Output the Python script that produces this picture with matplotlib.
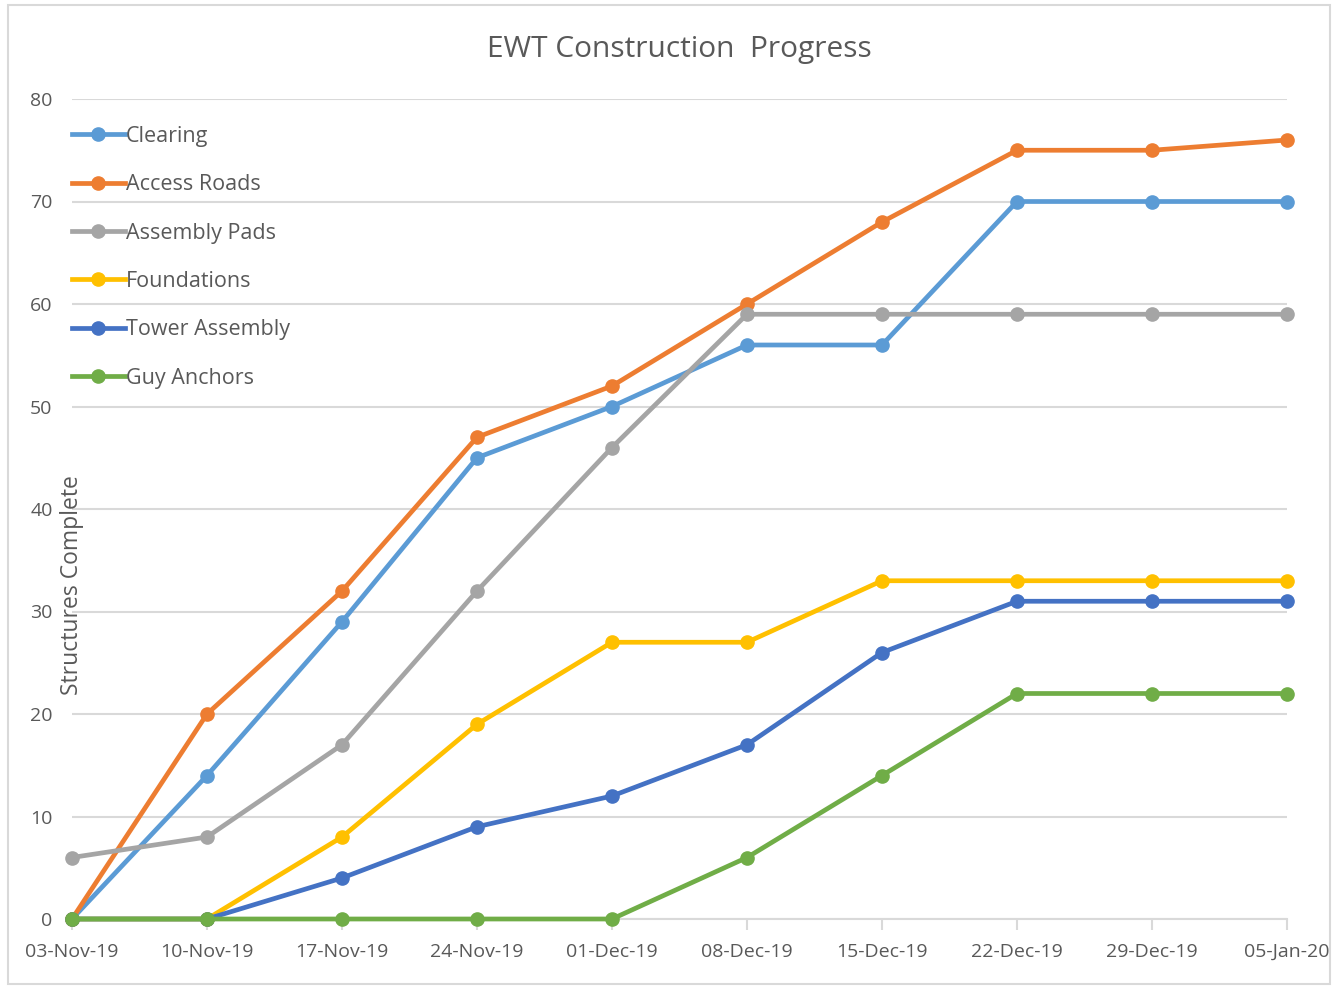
import matplotlib
matplotlib.use("Agg")
import matplotlib.pyplot as plt
from matplotlib.patches import Rectangle

dates = ["03-Nov-19", "10-Nov-19", "17-Nov-19", "24-Nov-19", "01-Dec-19",
         "08-Dec-19", "15-Dec-19", "22-Dec-19", "29-Dec-19", "05-Jan-20"]
clearing = [0, 14, 29, 45, 50, 56, 56, 70, 70, 70]
access_roads = [0, 20, 32, 47, 52, 60, 68, 75, 75, 76]
assembly_pads = [6, 8, 17, 32, 46, 59, 59, 59, 59, 59]
foundations = [0, 0, 8, 19, 27, 27, 33, 33, 33, 33]
tower_assembly = [0, 0, 4, 9, 12, 17, 26, 31, 31, 31]
guy_anchors = [0, 0, 0, 0, 0, 6, 14, 22, 22, 22]

series = [
    ("Clearing", clearing, "#5B9BD5"),
    ("Access Roads", access_roads, "#ED7D31"),
    ("Assembly Pads", assembly_pads, "#A5A5A5"),
    ("Foundations", foundations, "#FFC000"),
    ("Tower Assembly", tower_assembly, "#4472C4"),
    ("Guy Anchors", guy_anchors, "#70AD47"),
]

narrow = ["Liberation Sans Narrow", "Open Sans", "DejaVu Sans"]
txtc = "#595959"

W, H = 1334, 986
fig = plt.figure(figsize=(W / 100, H / 100), dpi=100)
fig.patch.set_facecolor("white")
fig.patches.append(Rectangle((8 / W, 1 - 984 / H), (1330 - 8) / W, (984 - 5) / H,
                             transform=fig.transFigure, fill=False,
                             edgecolor="#D9D9D9", linewidth=1.5))

ax = fig.add_axes([72 / W, 1 - 919 / H, (1287 - 72) / W, (919 - 99) / H])
x = list(range(len(dates)))
for name, vals, col in series:
    ax.plot(x, vals, color=col, linewidth=3.4, marker="o", markersize=9.5,
            label=name, clip_on=False, zorder=3)

ax.set_xlim(0, len(dates) - 1)
ax.set_ylim(0, 80)
ax.set_yticks(range(0, 81, 10))
ax.set_xticks(x)
ax.set_xticklabels(dates)
ax.grid(axis="y", color="#D9D9D9", linewidth=1.5)
ax.set_axisbelow(True)
for s in ["top", "right", "left"]:
    ax.spines[s].set_visible(False)
ax.spines["bottom"].set_color("#D9D9D9")
ax.spines["bottom"].set_linewidth(1.5)
ax.tick_params(axis="y", length=0, pad=14, labelsize=14, labelcolor=txtc)
ax.tick_params(axis="x", length=8, width=1.5, color="#D9D9D9", pad=9,
               labelsize=14, labelcolor=txtc)
for lab in ax.get_xticklabels() + ax.get_yticklabels():
    lab.set_fontfamily(narrow)

fig.text(679 / W, 1 - 50 / H, "EWT Construction  Progress", ha="center", va="center",
         fontsize=21.5, color=txtc, family=["Open Sans", "DejaVu Sans"])
fig.text(72 / W, 1 - 585 / H, "Structures Complete", ha="center", va="center",
         rotation=90, fontsize=16.5, color=txtc, family=["Open Sans", "DejaVu Sans"])

leg = ax.legend(loc="upper left", bbox_to_anchor=(0.0, (919 - 126) / 820),
                frameon=False, borderpad=0, borderaxespad=0,
                handlelength=2.45, handletextpad=0.05, labelspacing=1.27,
                prop={"family": narrow, "size": 15.5})
for t in leg.get_texts():
    t.set_color(txtc)

fig.savefig("out.png", dpi=100, facecolor="white")
